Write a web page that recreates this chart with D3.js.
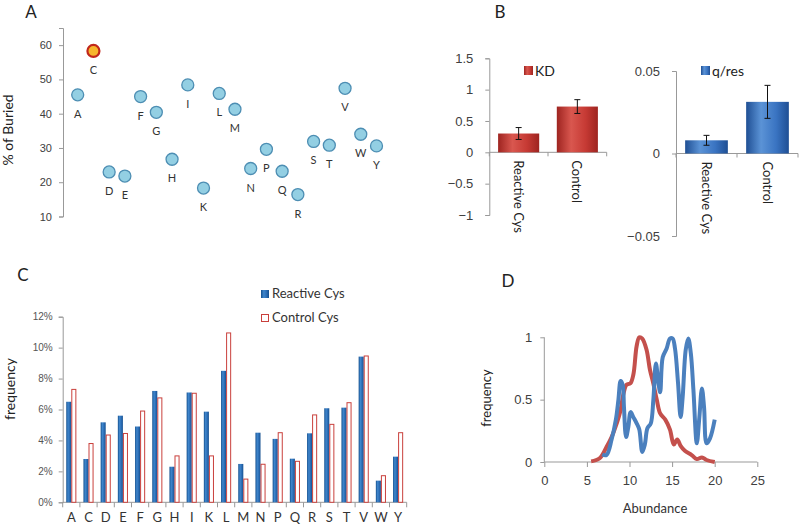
<!doctype html>
<html>
<head>
<meta charset="utf-8">
<script src="https://cdnjs.cloudflare.com/ajax/libs/d3/7.8.5/d3.min.js"></script>
<style>
  body { margin: 0; background: #fff; }
  svg { font-family: Lato, "Open Sans", sans-serif; }
  .axis path, .axis line { stroke: #999; }
  .axis text { fill: #404040; }
</style>
</head>
<body>
<svg id="fig" width="800" height="525"></svg>
<script>
// ---- panel A: % buried per residue
var residues = ["A","C","D","E","F","G","H","I","K","L","M","N","P","Q","R","S","T","V","W","Y"];
var buried = [45.5,58.3,23,21.8,45,40.4,26.7,48.4,18.3,45.9,41.3,24,29.6,23.2,16.4,31.9,30.8,47.4,34,30.6];
var buriedTicks = [10,20,30,40,50,60];

// ---- panel B: KD and q/res
var groupsB = ["Reactive Cys","Control"];
var kd = [0.30, 0.73];
var kdErr = [0.095, 0.11];
var kdTicks = [-1,-0.5,0,0.5,1,1.5];
var qres = [0.008, 0.0313];
var qresErr = [0.003, 0.010];
var qresTicks = [-0.05,0,0.05];

// ---- panel C: frequency per residue
var reactiveFreq = [6.5,2.8,5.17,5.6,4.9,7.2,2.3,7.1,5.86,8.5,2.48,4.5,4.1,2.82,4.46,6.08,6.12,9.42,1.4,2.95];
var controlFreq  = [7.3,3.8,4.35,4.45,5.9,6.75,3.0,7.05,3.0,10.95,1.5,2.46,4.5,2.65,5.65,5.04,6.44,9.46,1.72,4.5];
var freqTicks = [0,2,4,6,8,10,12];

// ---- panel D: abundance distributions
var redAbund  = [5.5,6.5,7.3,7.9,8.5,8.9,9.3,9.66,10.1,10.45,10.84,11.15,11.5,12,12.4,12.8,13.2,13.6,14.2,14.75,15.2,15.6,16,16.5,17.3,17.9,18.5,19.05,20];
var redFreq   = [0.005,0.03,0.12,0.2,0.31,0.4,0.55,0.62,0.63,0.7,0.93,1.0,0.99,0.9,0.74,0.63,0.5,0.39,0.34,0.26,0.14,0.18,0.13,0.09,0.056,0.024,0.037,0.016,0];
var blueAbund = [6.8,7.3,7.9,8.4,8.7,8.96,9.2,9.35,9.6,9.86,10.13,10.45,10.84,11.15,11.5,11.8,12.1,12.5,12.8,13.1,13.4,13.6,13.9,14.36,14.75,15.06,15.34,15.7,16,16.24,16.6,16.9,17.2,17.5,17.9,18.2,18.5,18.75,19.05,19.45,20];
var blueFreq  = [0.06,0.056,0.18,0.34,0.5,0.65,0.62,0.44,0.2,0.28,0.4,0.36,0.31,0.26,0.08,0.14,0.27,0.31,0.5,0.79,0.63,0.56,0.84,0.91,0.99,0.99,0.91,0.63,0.36,0.52,0.9,0.99,0.87,0.58,0.15,0.36,0.59,0.44,0.15,0.19,0.34];
var abundTicks = [0,5,10,15,20,25];
var dFreqTicks = [0,0.5,1];

var svg = d3.select("#fig");
var defs = svg.append("defs");

function barGrad(id, dark, mid, light) {
  var g = defs.append("linearGradient").attr("id", id).attr("x1", 0).attr("x2", 1).attr("y1", 0).attr("y2", 0);
  g.append("stop").attr("offset", "0%").attr("stop-color", dark);
  g.append("stop").attr("offset", "35%").attr("stop-color", light);
  g.append("stop").attr("offset", "70%").attr("stop-color", mid);
  g.append("stop").attr("offset", "100%").attr("stop-color", dark);
}
barGrad("redGrad", "#9e2420", "#c63a34", "#d9574f");
barGrad("blueGrad", "#1f4f94", "#3a74c2", "#5b93d6");
barGrad("cBlue", "#15508f", "#2a6bb3", "#3f86cc");

function styleAxis(g, size) {
  g.attr("class", "axis");
  g.selectAll("text").style("font-size", size + "px");
}

function panelLetter(t, x, y) {
  svg.append("text").attr("x", x).attr("y", y).attr("text-anchor", "middle")
    .style("font-size", "17px").style("fill", "#222").text(t);
}

// ================= A =================
panelLetter("A", 31, 18);
var xA = d3.scalePoint().domain(residues).range([77.7, 376.5]);
var yA = d3.scaleLinear().domain([10, 65]).range([216.5, 28]);

var axA = svg.append("g").attr("transform", "translate(63,0)")
  .call(d3.axisLeft(yA).tickValues(buriedTicks).tickSize(4).tickPadding(7));
styleAxis(axA, 11);

svg.append("text").attr("transform", "translate(13,130) rotate(-90)")
  .attr("text-anchor", "middle").style("font-size", "14px").style("fill", "#222").text("% of Buried");

var ptA = svg.append("g").selectAll("g").data(residues).enter().append("g")
  .attr("transform", (d, i) => "translate(" + xA(d) + "," + yA(buried[i]) + ")");
ptA.append("circle").attr("r", 6)
  .style("fill", d => d === "C" ? "#f7b52c" : "#93cfe3")
  .style("stroke", d => d === "C" ? "#c1271b" : "#4d8eb3")
  .style("stroke-width", d => d === "C" ? 2.2 : 1.3);
ptA.append("text").attr("y", 23).attr("text-anchor", "middle")
  .style("font-size", "11px").style("fill", "#333").text(d => d);

// ================= B =================
panelLetter("B", 500, 18);

function drawB(x0, x1, domain, y0, y1, ticks, vals, errs, fillId, legendX, legendText, fmt) {
  var x = d3.scaleBand().domain(groupsB).range([x0, x1]).paddingInner(0.3).paddingOuter(0.15);
  var y = d3.scaleLinear().domain(domain).range([y0, y1]);
  var ay = svg.append("g").attr("transform", "translate(" + x0 + ",0)")
    .call(d3.axisLeft(y).tickValues(ticks).tickSize(4).tickPadding(12).tickFormat(fmt));
  styleAxis(ay, 13);
  // baseline with boundary ticks
  svg.append("line").attr("x1", x0).attr("x2", x1).attr("y1", y(0)).attr("y2", y(0)).style("stroke", "#999");
  svg.append("g").selectAll("line").data(d3.range(groupsB.length + 1)).enter().append("line")
    .attr("x1", i => x0 + i * x.step()).attr("x2", i => x0 + i * x.step())
    .attr("y1", y(0)).attr("y2", y(0) + 4).style("stroke", "#999");
  svg.append("g").selectAll("rect").data(groupsB).enter().append("rect")
    .attr("x", d => x(d)).attr("width", x.bandwidth())
    .attr("y", (d, i) => y(vals[i])).attr("height", (d, i) => y(0) - y(vals[i]))
    .style("fill", "url(#" + fillId + ")");
  var eb = svg.append("g").selectAll("g").data(groupsB).enter().append("g")
    .attr("transform", d => "translate(" + (x(d) + x.bandwidth() / 2) + ",0)");
  eb.append("line").attr("y1", (d, i) => y(vals[i] + errs[i])).attr("y2", (d, i) => y(vals[i] - errs[i]))
    .style("stroke", "#111");
  eb.append("line").attr("x1", -3).attr("x2", 3).attr("y1", (d, i) => y(vals[i] + errs[i])).attr("y2", (d, i) => y(vals[i] + errs[i])).style("stroke", "#111");
  eb.append("line").attr("x1", -3).attr("x2", 3).attr("y1", (d, i) => y(vals[i] - errs[i])).attr("y2", (d, i) => y(vals[i] - errs[i])).style("stroke", "#111");
  svg.append("g").selectAll("text").data(groupsB).enter().append("text")
    .attr("transform", d => "translate(" + (x(d) + x.bandwidth() / 2 - 5) + "," + (y(0) + 8) + ") rotate(90)")
    .style("font-size", "13px").style("fill", "#222").text(d => d);
  svg.append("rect").attr("x", legendX).attr("y", 66).attr("width", 9).attr("height", 9)
    .style("fill", "url(#" + fillId + ")");
  svg.append("text").attr("x", legendX + 11).attr("y", 76).style("font-size", "14px")
    .style("fill", "#222").text(legendText);
}
drawB(489.3, 606.7, [-1, 1.5], 215, 58.3, kdTicks, kd, kdErr, "redGrad", 524, "KD", d3.format("~g"));
drawB(676, 798, [-0.05, 0.05], 236, 71, qresTicks, qres, qresErr, "blueGrad", 701, "q/res", d3.format("~g"));

// ================= C =================
panelLetter("C", 23, 281);
var xC = d3.scaleBand().domain(residues).range([62.7, 406.7]);
var xC1 = d3.scaleBand().domain(["r", "c"]).range([0, xC.bandwidth()]).paddingOuter(0.7);
var yC = d3.scaleLinear().domain([0, 12]).range([502.3, 316.7]);

var ayC = svg.append("g").attr("transform", "translate(62.7,0)")
  .call(d3.axisLeft(yC).tickValues(freqTicks).tickSize(4).tickPadding(6).tickFormat(d => d + "%"));
styleAxis(ayC, 10);
ayC.selectAll("text").style("fill", "#555");

svg.append("line").attr("x1", 62.7).attr("x2", 406.7).attr("y1", yC(0)).attr("y2", yC(0)).style("stroke", "#999");
svg.append("g").selectAll("line").data(d3.range(residues.length + 1)).enter().append("line")
  .attr("x1", i => 62.7 + i * xC.step()).attr("x2", i => 62.7 + i * xC.step())
  .attr("y1", yC(0)).attr("y2", yC(0) + 5).style("stroke", "#999");

svg.append("g").selectAll("rect").data(residues).enter().append("rect")
  .attr("x", d => xC(d) + xC1("r")).attr("width", xC1.bandwidth())
  .attr("y", (d, i) => yC(reactiveFreq[i])).attr("height", (d, i) => yC(0) - yC(reactiveFreq[i]))
  .style("fill", "url(#cBlue)");
svg.append("g").selectAll("rect").data(residues).enter().append("rect")
  .attr("x", d => xC(d) + xC1("c") + 0.5).attr("width", xC1.bandwidth() - 1)
  .attr("y", (d, i) => yC(controlFreq[i])).attr("height", (d, i) => yC(0) - yC(controlFreq[i]))
  .style("fill", "#fff").style("stroke", "#c9403c").style("stroke-width", 1);

svg.append("g").selectAll("text").data(residues).enter().append("text")
  .attr("x", d => xC(d) + xC.bandwidth() / 2).attr("y", 522).attr("text-anchor", "middle")
  .style("font-size", "13px").style("fill", "#333").text(d => d);

svg.append("text").attr("transform", "translate(15,389) rotate(-90)")
  .attr("text-anchor", "middle").style("font-size", "14px").style("fill", "#222").text("frequency");

svg.append("rect").attr("x", 261).attr("y", 290).attr("width", 8).attr("height", 8).style("fill", "url(#cBlue)");
svg.append("text").attr("x", 272).attr("y", 298).style("font-size", "13px").style("fill", "#333").text("Reactive Cys");
svg.append("rect").attr("x", 261.5).attr("y", 314.5).attr("width", 7).attr("height", 7)
  .style("fill", "#fff").style("stroke", "#c9403c");
svg.append("text").attr("x", 272).attr("y", 322).style("font-size", "13px").style("fill", "#333").text("Control Cys");

// ================= D =================
panelLetter("D", 508, 287);
var xD = d3.scaleLinear().domain([0, 25]).range([544.3, 757.3]);
var yD = d3.scaleLinear().domain([0, 1]).range([462, 337.3]);

var axD = svg.append("g").attr("transform", "translate(0,462)")
  .call(d3.axisBottom(xD).tickValues(abundTicks).tickSize(5).tickPadding(9));
styleAxis(axD, 13);
axD.select(".domain").attr("d", "M" + xD(0) + ",0H" + xD(25));
var ayD = svg.append("g").attr("transform", "translate(544.3,0)")
  .call(d3.axisLeft(yD).tickValues(dFreqTicks).tickSize(4).tickPadding(8).tickFormat(d3.format("~g")));
styleAxis(ayD, 13);
ayD.select(".domain").attr("d", "M0," + yD(0) + "V" + yD(1));

var lineD = d3.line().x(d => xD(d[0])).y(d => yD(d[1])).curve(d3.curveCatmullRom.alpha(0.5));
svg.append("path").datum(d3.zip(redAbund, redFreq)).attr("d", lineD)
  .style("fill", "none").style("stroke", "#c4504c").style("stroke-width", 4).style("stroke-linejoin", "round");
svg.append("path").datum(d3.zip(blueAbund, blueFreq)).attr("d", lineD)
  .style("fill", "none").style("stroke", "#4b80be").style("stroke-width", 4).style("stroke-linejoin", "round");

svg.append("text").attr("x", 655).attr("y", 513).attr("text-anchor", "middle")
  .style("font-size", "13px").style("fill", "#333").text("Abundance");
svg.append("text").attr("transform", "translate(491,398) rotate(-90)")
  .attr("text-anchor", "middle").style("font-size", "13px").style("fill", "#222").text("frequency");
</script>
</body>
</html>
